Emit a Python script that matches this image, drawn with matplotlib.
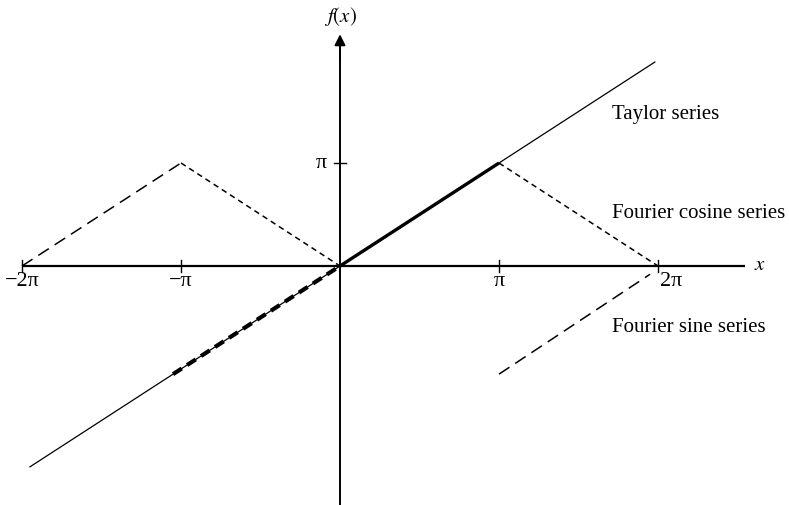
import numpy as np
import matplotlib
matplotlib.use("Agg")
import matplotlib.pyplot as plt

plt.rcParams['font.family'] = ['Liberation Serif', 'DejaVu Serif']
plt.rcParams['mathtext.fontset'] = 'stix'
plt.rcParams['lines.scale_dashes'] = False

PI = np.pi

# x and y values in units of pi
taylor_x = [-1.95, 1.98]
taylor_y = [-1.95, 1.98]

func_x = [0.0, 1.0]          # f(x) = x on [0, pi]
func_y = [0.0, 1.0]

sine_odd_x = [-1.05, 0.0]    # odd extension on [-pi, 0]
sine_odd_y = [-1.05, 0.0]
sine_shift_x = [1.0, 1.95]   # periodic copy on [pi, 2pi]
sine_shift_y = [-1.05, -0.08]

cos_left_x = [-2.0, -1.0]    # even extension, periodic copy
cos_left_y = [0.0, 1.0]
cos_even_x = [-1.0, 0.0]
cos_even_y = [1.0, 0.0]
cos_right_x = [1.0, 2.0]
cos_right_y = [1.0, 0.0]

xtick_vals = [-2, -1, 1, 2]
xtick_labels = ['\u22122\u03c0', '\u2212\u03c0', '\u03c0', '2\u03c0']

series_names = ['Taylor series', 'Fourier cosine series', 'Fourier sine series']
series_label_y = [1.47, 0.51, -0.60]   # label positions in units of pi (y)


def scaled(v):
    return [PI * t for t in v]


fig = plt.figure(figsize=(7.89, 5.05), dpi=100)
ax = fig.add_axes([0, 0, 1, 1])
ax.set_xlim(-340 / 159 * PI, 449 / 159 * PI)
ax.set_ylim(-239 / 103 * PI, 266 / 103 * PI)
ax.axis('off')

# axes with arrows
ax.plot([-2 * PI, 2.55 * PI], [0, 0], color='black', lw=1.6, solid_capstyle='butt')
ax.plot([0, 0], [-2.4 * PI, 2.15 * PI], color='black', lw=1.4, solid_capstyle='butt')
ax.annotate('', xy=(2.87 * PI, 0), xytext=(2.5 * PI, 0),
            arrowprops=dict(arrowstyle='-|>', color='black', lw=1.4,
                            mutation_scale=16, shrinkA=0, shrinkB=0))
ax.annotate('', xy=(0, 2.25 * PI), xytext=(0, 2.0 * PI),
            arrowprops=dict(arrowstyle='-|>', color='black', lw=1.4,
                            mutation_scale=16, shrinkA=0, shrinkB=0))

# ticks
for v in xtick_vals:
    ax.plot([v * PI, v * PI], [-0.06 * PI, 0.06 * PI], color='black', lw=1.0)
ax.plot([-0.04 * PI, 0.04 * PI], [PI, PI], color='black', lw=1.0)

for v, lab in zip(xtick_vals, xtick_labels):
    if v == 2:
        ax.text(v * PI + 0.01 * PI, -0.055 * PI, lab, ha='left', va='top', fontsize=16)
    else:
        ax.text(v * PI, -0.055 * PI, lab, ha='center', va='top', fontsize=16)
ax.text(-0.12 * PI, PI, '\u03c0', ha='center', va='center', fontsize=16)

ax.text(2.64 * PI, 0, '$x$', ha='center', va='center', fontsize=15)
ax.text(0, 2.42 * PI, '$f(x)$', ha='center', va='center', fontsize=15)

# Taylor series
ax.plot(scaled(taylor_x), scaled(taylor_y), color='black', lw=0.9)
ax.plot(scaled(func_x), scaled(func_y), color='black', lw=2.4, solid_capstyle='butt')

# Fourier sine series
ax.plot(scaled(sine_odd_x), scaled(sine_odd_y), color='black', lw=3.0,
        linestyle=(0, (7.5, 4.5)))
ax.plot(scaled(sine_shift_x), scaled(sine_shift_y), color='black', lw=1.1,
        linestyle=(0, (9, 5)))

# Fourier cosine series
ax.plot(scaled(cos_left_x), scaled(cos_left_y), color='black', lw=1.1,
        linestyle=(0, (9, 5)))
ax.plot(scaled(cos_even_x), scaled(cos_even_y), color='black', lw=1.1,
        linestyle=(0, (4, 3)))
ax.plot(scaled(cos_right_x), scaled(cos_right_y), color='black', lw=1.1,
        linestyle=(0, (4, 3)))

for name, yv in zip(series_names, series_label_y):
    ax.text(1.71 * PI, yv * PI, name, ha='left', va='center', fontsize=15)

fig.savefig('out.png', dpi=100)
